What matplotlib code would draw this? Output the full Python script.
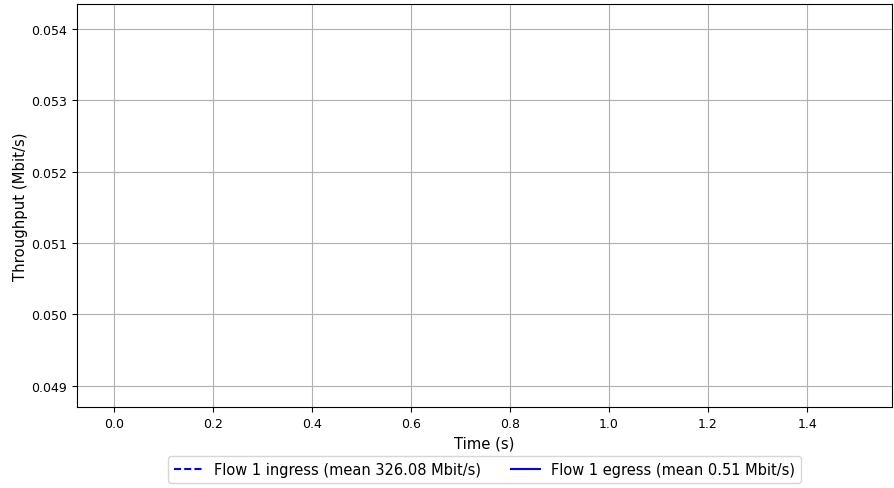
import matplotlib
matplotlib.use('Agg')
from matplotlib import pyplot as plt

# throughput samples (nothing visible in the reference window)
ingress_time = []
ingress_tput = []
egress_time = []
egress_tput = []

ingress_label = 'Flow 1 ingress (mean 326.08 Mbit/s)'
egress_label = 'Flow 1 egress (mean 0.51 Mbit/s)'

fig = plt.figure(figsize=(8.94, 4.89), dpi=100)
ax = fig.add_axes([0.086, 0.166, 0.912, 0.824])

ax.plot(ingress_time, ingress_tput, color='b', linestyle=(0, (3.4, 1.5)), label=ingress_label)
ax.plot(egress_time, egress_tput, color='b', label=egress_label)

ax.set_xlim(-0.0747, 1.572)
ax.set_ylim(0.048706, 0.05435)
ax.set_xticks([0.0, 0.2, 0.4, 0.6, 0.8, 1.0, 1.2, 1.4])
ax.set_yticks([0.049, 0.050, 0.051, 0.052, 0.053, 0.054])
ax.tick_params(labelsize=9)
ax.grid(True, color='#b0b0b0')

ax.set_xlabel('Time (s)', fontsize=10.7)
ax.set_ylabel('Throughput (Mbit/s)', fontsize=10.7, labelpad=2.5)

ax.legend(loc='upper center', bbox_to_anchor=(0.5, -0.105), ncol=2, fontsize=10.5)

fig.savefig('out.png', dpi=100)
